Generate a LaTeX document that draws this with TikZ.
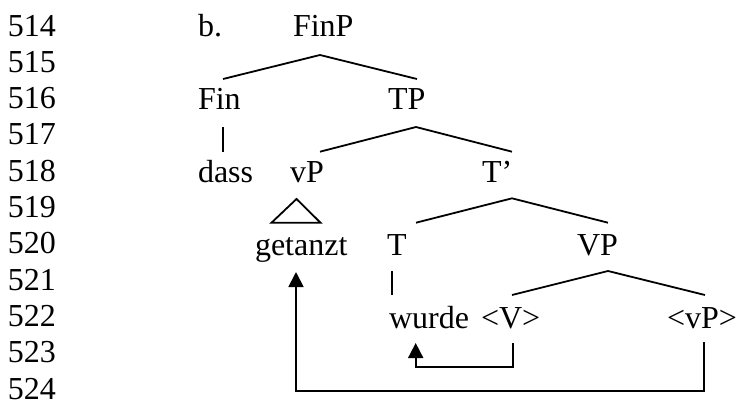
\documentclass[tikz,border=0pt]{standalone}
\usepackage{fontspec}
\setmainfont{Liberation Serif}
\usetikzlibrary{arrows.meta}

\begin{document}
\begin{tikzpicture}[x=1pt,y=-1pt,
  word/.style={anchor=base west,inner sep=0pt,outer sep=0pt,font=\fontsize{32}{36}\selectfont},
  branch/.style={line width=1.8pt,line cap=butt,line join=miter},
  move/.style={line width=1.8pt,-{Triangle[width=15pt,length=15pt]}}]
\useasboundingbox (0,0) rectangle (737,405);

% line numbers
\foreach \k in {0,...,10}{
  \pgfmathtruncatemacro{\num}{514+\k}
  \node[word] (ln\num) at (8,{36+36.3*\k}) {\num};
}

% tree labels
\node[word] (ex)      at (198,36)    {b.};
\node[word] (FinP)    at (293,36)    {FinP};
\node[word] (Fin)     at (198,109)   {Fin};
\node[word] (TP)      at (388,109)   {TP};
\node[word] (dass)    at (198,182)   {dass};
\node[word] (vP)      at (290,182)   {vP};
\node[word] (Tbar)    at (482,182)   {T’};
\node[word] (getanzt) at (255,255.6) {getanzt};
\node[word] (T)       at (387,255.6) {T};
\node[word] (VP)      at (577,255.6) {VP};
\node[word] (wurde)   at (389,328.6) {wurde};
\node[word] (Vtr)     at (481,328.6) {<V>};
\node[word] (vPtr)    at (667,328.6) {<vP>};

% branch points
\coordinate (FinP-top) at (320,55);
\coordinate (Fin-up)   at (223,79);
\coordinate (TP-up)    at (417,79);
\coordinate (TP-top)   at (416,127);
\coordinate (vP-up)    at (320,151.7);
\coordinate (Tbar-up)  at (512,151.7);
\coordinate (Fin-down) at (223,127);
\coordinate (dass-up)  at (223,151.7);
\coordinate (Tbar-top) at (512,198.3);
\coordinate (T-up)     at (416,222.7);
\coordinate (VP-up)    at (608,222.7);
\coordinate (tri-top)  at (296.5,199);
\coordinate (tri-l)    at (271.5,222.7);
\coordinate (tri-r)    at (320.5,222.7);
\coordinate (VP-top)   at (608,271);
\coordinate (Vtr-up)   at (512,295);
\coordinate (vPtr-up)  at (705,295);
\coordinate (T-down)   at (392,271);
\coordinate (wurde-up) at (392,295);

\draw[branch] (Fin-up) -- (FinP-top) -- (TP-up);
\draw[branch] (Fin-down) -- (dass-up);
\draw[branch] (vP-up) -- (TP-top) -- (Tbar-up);
\draw[branch] (T-up) -- (Tbar-top) -- (VP-up);
\draw[branch] (tri-top) -- (tri-l) -- (tri-r) -- cycle;
\draw[branch] (Vtr-up) -- (VP-top) -- (vPtr-up);
\draw[branch] (T-down) -- (wurde-up);

% movement arrows
\coordinate (Vtr-foot)  at (512.7,343);
\coordinate (wurde-in)  at (415.7,343);
\coordinate (vPtr-foot) at (704,342);
\coordinate (getanzt-in) at (296,272);
\draw[move] (Vtr-foot) -- ++(0,24.3) -| (wurde-in);
\draw[move] (vPtr-foot) -- ++(0,48.7) -| (getanzt-in);
\end{tikzpicture}
\end{document}
